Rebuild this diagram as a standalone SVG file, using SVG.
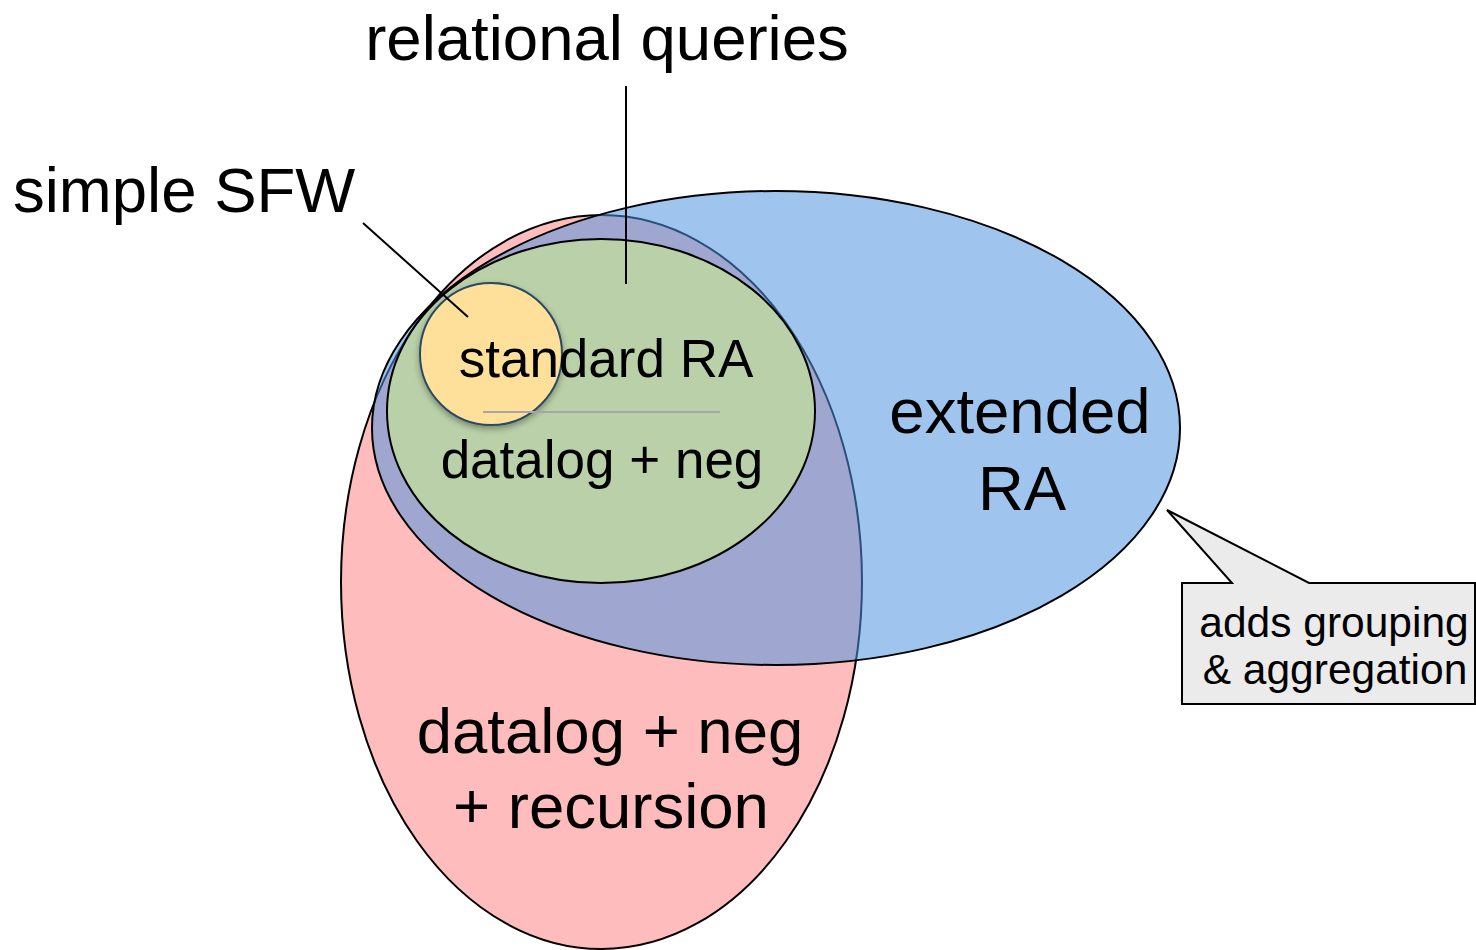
<svg xmlns="http://www.w3.org/2000/svg" width="1476" height="950" viewBox="0 0 1476 950">
<defs>
<style>
text{font-family:"Liberation Sans",Arial,sans-serif;fill:#000}
.big{font-size:63.5px}
.mid{font-size:53px}
.small{font-size:42.5px}
.edge{stroke:#000;stroke-width:2;fill:none}
</style>
<filter id="shadow" x="-20%" y="-20%" width="140%" height="150%">
<feDropShadow dx="0" dy="3" stdDeviation="3" flood-color="#000" flood-opacity="0.35"/>
</filter>
</defs>
<rect width="1476" height="950" fill="#fff"/>
<g id="recursion">
<ellipse cx="601.5" cy="582" rx="260.5" ry="367" fill="#ffbcbc" stroke="#000" stroke-width="2"/>
</g>
<g id="extended">
<ellipse cx="776" cy="428" rx="404" ry="237" fill="rgb(77,148,224)" fill-opacity="0.54" stroke="#000" stroke-width="2"/>
</g>
<g id="standard">
<ellipse cx="601" cy="411" rx="214" ry="172" fill="#b9d0a8" stroke="#000" stroke-width="2"/>
</g>
<g id="sfw">
<circle cx="491" cy="354" r="71" fill="#ffe09a" stroke="#2c4a63" stroke-width="2" filter="url(#shadow)"/>
</g>
<g id="divider">
<line x1="483" y1="412" x2="720" y2="412" stroke="#a6a6a6" stroke-width="2"/>
</g>
<g id="labels">
<text class="mid" x="606" y="377" text-anchor="middle">standard RA</text>
<text class="mid" x="602" y="478" text-anchor="middle">datalog + neg</text>
<text class="big" x="1020" y="433" text-anchor="middle">extended</text>
<text class="big" x="1022" y="510" text-anchor="middle">RA</text>
<text class="big" x="610" y="753" text-anchor="middle">datalog + neg</text>
<text class="big" x="611" y="828" text-anchor="middle">+ recursion</text>
<text class="big" x="607" y="60" text-anchor="middle">relational queries</text>
<text class="big" x="13" y="212">simple SFW</text>
</g>
<g id="callout">
<path d="M1182,583 L1232,583 L1167,510 L1309,583 L1475,583 L1475,704 L1182,704 Z" fill="#ebebeb" stroke="#000" stroke-width="2"/>
<text class="small" x="1334" y="637" text-anchor="middle">adds grouping</text>
<text class="small" x="1335" y="684" text-anchor="middle">&amp; aggregation</text>
</g>
<g id="connectors">
<line class="edge" x1="626" y1="86" x2="626" y2="284"/>
<line class="edge" x1="363" y1="223" x2="468" y2="317"/>
</g>
</svg>
